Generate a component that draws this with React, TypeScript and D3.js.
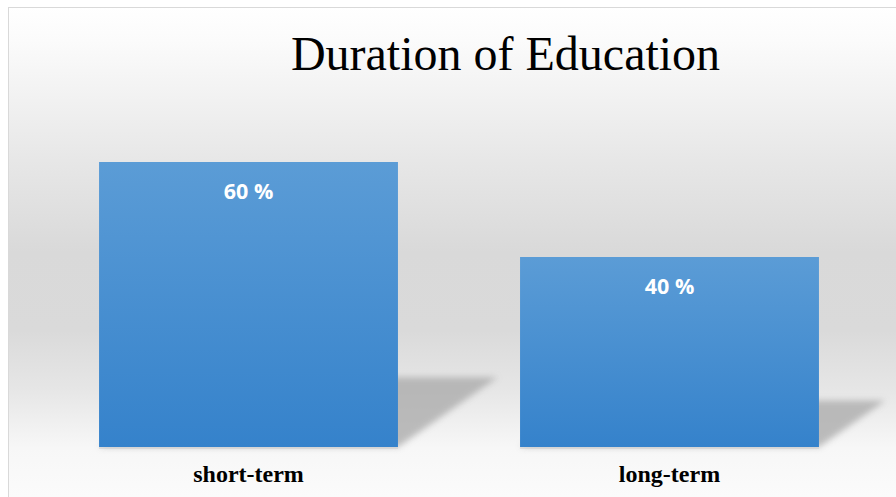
import React from "react";
import * as d3 from "d3";

const categories = ["short-term", "long-term"];
const values = [60, 40];
const valueLabels = ["60 %", "40 %"];
const title = "Duration of Education";

export default function App() {
  const W = 896;
  const H = 497;
  const x = d3.scaleBand<string>().domain(categories).range([38, 880]).paddingInner(0.29).paddingOuter(0.145);
  const y = d3.scaleLinear().domain([0, 70]).range([447, 114.5]);
  const base = y(0);

  return (
    <svg
      width={W}
      height={H}
      style={{ position: "absolute", left: 0, top: 0, display: "block" }}
    >
      <defs>
        <linearGradient id="bg" x1="0" y1="7" x2="0" y2="497" gradientUnits="userSpaceOnUse">
          <stop offset="0" stopColor="#ffffff" />
          <stop offset="0.07" stopColor="#fbfbfb" />
          <stop offset="0.3" stopColor="#e8e8e8" />
          <stop offset="0.5" stopColor="#d9d9d9" />
          <stop offset="0.66" stopColor="#dadada" />
          <stop offset="0.78" stopColor="#e6e6e6" />
          <stop offset="0.9" stopColor="#f7f7f7" />
          <stop offset="1" stopColor="#fbfbfb" />
        </linearGradient>
        <linearGradient id="bar" x1="0" y1="0" x2="0" y2="1">
          <stop offset="0" stopColor="#5b9cd6" />
          <stop offset="1" stopColor="#3582cb" />
        </linearGradient>
        <filter id="blur" x="-20%" y="-20%" width="140%" height="140%">
          <feGaussianBlur stdDeviation="3" />
        </filter>
      </defs>
      <rect x={8.5} y={7.5} width={W + 20} height={H + 20} fill="url(#bg)" stroke="#d9d9d9" />
      {categories.map((c, i) => {
        const x0 = x(c) as number;
        const x1 = x0 + x.bandwidth();
        const h = base - y(values[i]);
        const dx = h * 0.35;
        const dy = h * 0.245;
        const pts = [
          [x0, base],
          [x1, base],
          [x1 + dx, base - dy],
          [x0 + dx, base - dy],
        ]
          .map((p) => p.join(","))
          .join(" ");
        return (
          <g key={"s" + c}>
            <polygon points={pts} fill="#a8a8a8" opacity={0.75} filter="url(#blur)" />
            <rect x={x0} y={base} width={x.bandwidth()} height={2} fill="#d0d0d0" opacity={0.6} />
          </g>
        );
      })}
      {categories.map((c, i) => (
        <rect
          key={"b" + c}
          x={x(c)}
          y={y(values[i])}
          width={x.bandwidth()}
          height={base - y(values[i])}
          fill="url(#bar)"
        />
      ))}
      {categories.map((c, i) => (
        <text
          key={"v" + c}
          x={(x(c) as number) + x.bandwidth() / 2}
          y={y(values[i]) + 37}
          textAnchor="middle"
          fill="#ffffff"
          fontFamily="'Open Sans', sans-serif"
          fontWeight="bold"
          fontSize={21.5}
        >
          {valueLabels[i]}
        </text>
      ))}
      {categories.map((c) => (
        <text
          key={"c" + c}
          x={(x(c) as number) + x.bandwidth() / 2}
          y={482}
          textAnchor="middle"
          fill="#000000"
          fontFamily="'Liberation Serif', 'Times New Roman', serif"
          fontWeight="bold"
          fontSize={24}
        >
          {c}
        </text>
      ))}
      <text
        x={505.5}
        y={70}
        textAnchor="middle"
        fill="#000000"
        fontFamily="'Liberation Serif', 'Times New Roman', serif"
        fontSize={48}
      >
        {title}
      </text>
    </svg>
  );
}
